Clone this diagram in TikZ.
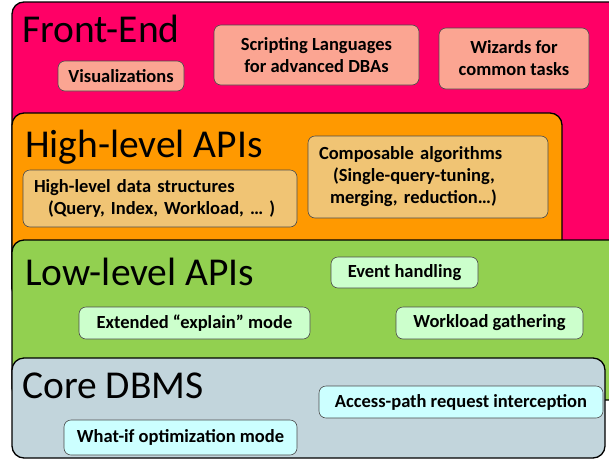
\documentclass[tikz,border=0pt]{standalone}
\usepackage{fontspec}
\setmainfont{Carlito}
\usepackage{xcolor}
\usepackage{tikz}
\usetikzlibrary{positioning}

\definecolor{frontcol}{HTML}{FF0066}
\definecolor{highcol}{HTML}{FF9900}
\definecolor{lowcol}{HTML}{92D050}
\definecolor{corecol}{HTML}{C2D5DC}
\definecolor{frontitem}{HTML}{FBA592}
\definecolor{highitem}{HTML}{F0C474}
\definecolor{lowitem}{HTML}{CCFFCC}
\definecolor{coreitem}{HTML}{CCFFFF}

\begin{document}
\begin{tikzpicture}[
      x=1pt, y=-1pt,
      layer/.style={draw=black, line width=1.3pt, rounded corners=12pt},
      ltitle/.style={anchor=base west, inner sep=0pt,
                     font=\fontsize{39.5}{42}\selectfont},
      item/.style={draw=black!70, line width=0.6pt, rounded corners=7pt,
                   inner sep=2pt, align=center,
                   font=\fontsize{18.5}{22}\selectfont\bfseries},
      leftitem/.style={item, inner xsep=11pt, align=left},
    ]
    \useasboundingbox (0,0) rectangle (609,461);
    \clip (0,0) rectangle (609,461);

    % the four layers, top one first so the lower ones sit over it
    \fill[white] (0,0) rectangle (609,461);
    \draw[layer, fill=frontcol] (12,2) rectangle (640,300);
    \draw[layer, fill=highcol]  (12,113) rectangle (562,300);
    \draw[layer, fill=lowcol]   (12,240) rectangle (640,400);
    \draw[layer, fill=corecol]  (12,358) rectangle (605,458);

    % Front-End
    \node[ltitle] (front) at (22,42) {Front-End};
    \node[item, fill=frontitem, minimum width=126pt, minimum height=30pt]
      (vis) at (121,76) {Visualizations};
    \node[item, fill=frontitem, minimum width=205pt, minimum height=60pt]
      (script) at (316.5,55) {Scripting Languages\\for advanced DBAs};
    \node[item, fill=frontitem, minimum width=150pt, minimum height=61pt]
      (wiz) at (514,58.5) {Wizards for\\common tasks};

    % High-level APIs
    \node[ltitle] (high) at (25,157) {High-level APIs};
    \node[leftitem, fill=highitem, text width=252pt, minimum height=57pt]
      (hds) at (160,198.5)
      {High-level data structures\\\hspace*{14pt}(Query, Index, Workload, … )};
    \node[leftitem, fill=highitem, text width=218pt, minimum height=82pt]
      (calg) at (428,177)
      {Composable algorithms\\\hspace*{14pt}(Single-query-tuning,\\\hspace*{11pt}merging, reduction…)};

    % Low-level APIs
    \node[ltitle] (low) at (25,285) {Low-level APIs};
    \node[item, fill=lowitem, minimum width=147pt, minimum height=31pt]
      (evt) at (404.5,272.5) {Event handling};
    \node[item, fill=lowitem, minimum width=231pt, minimum height=32pt]
      (expl) at (194.5,323) {Extended “explain” mode};
    \node[item, fill=lowitem, minimum width=187pt, minimum height=32pt]
      (wkl) at (489.5,323) {Workload gathering};

    % Core DBMS
    \node[ltitle] (core) at (22,398) {Core DBMS};
    \node[item, fill=coreitem, minimum width=284pt, minimum height=32pt]
      (apri) at (461,402) {Access-path request interception};
    \node[item, fill=coreitem, minimum width=233pt, minimum height=35pt]
      (wif) at (180.5,437.5) {What-if optimization mode};
  \end{tikzpicture}
\end{document}
